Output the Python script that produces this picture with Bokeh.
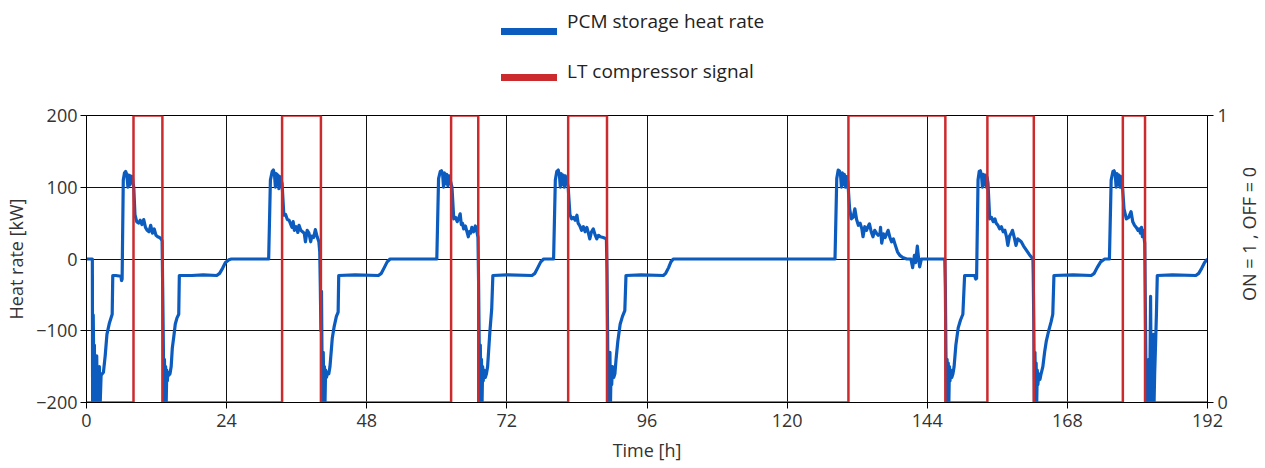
import numpy as np
from bokeh.plotting import figure
from bokeh.layouts import column, row
from bokeh.models import Range1d, LinearAxis, FixedTicker, Legend, LegendItem, Label
from bokeh.embed import file_html
from bokeh.resources import INLINE

# PCM storage heat rate over 8 days [h], [kW]
time_h = [
    0.0, 1.0, 1.05, 1.15, 1.25, 1.35, 1.45, 1.55, 1.65, 1.75, 1.85, 1.95, 2.05, 2.2, 2.35, 2.5, 2.7, 2.9, 3.2, 3.5, 3.9, 4.4, 4.5, 5.0, 5.9, 6.0, 6.1,
    6.3, 6.5, 6.7, 6.9, 7.1, 7.25, 7.4, 7.55, 7.7, 7.85, 8.0, 8.1,
    8.3, 8.6, 8.9, 9.2, 9.5, 9.8, 10.1, 10.4, 10.7, 11.0, 11.3, 11.6, 11.9, 12.2, 12.5, 12.8, 12.95,
    13.05, 13.15, 13.25, 13.35, 13.45, 13.55, 13.65, 13.75, 13.85, 13.95, 14.1, 14.3, 14.5, 14.7, 15.0, 15.2, 15.5, 15.8, 15.9,
    18.0, 20.0, 22.3, 22.8, 23.3, 23.8, 24.4, 24.8,
    31.2, 31.5, 31.8, 32.0, 32.2, 32.35, 32.5, 32.65, 32.8, 32.95, 33.1, 33.3, 33.5,
    33.8, 34.1, 34.4, 34.7, 35.0, 35.2, 35.4, 35.6, 35.9, 36.2, 36.4, 36.7, 37.0, 37.3, 37.5, 37.8, 38.1, 38.4, 38.6, 38.9, 39.2, 39.5, 39.8,
    39.95, 40.05, 40.15, 40.25, 40.35, 40.45, 40.55, 40.65, 40.75, 40.85, 40.95, 41.1, 41.3, 41.5, 41.7, 41.9, 42.1, 42.4, 42.8, 43.1, 43.2,
    46.0, 50.0, 50.5, 51.0, 51.5, 52.0,
    60.0, 60.3, 60.6, 60.8, 61.0, 61.15, 61.3, 61.5, 61.7, 61.9, 62.1, 62.35, 62.6,
    62.9, 63.2, 63.5, 63.8, 64.0, 64.2, 64.4, 64.6, 64.9, 65.1, 65.4, 65.6, 65.8, 66.0, 66.3, 66.6, 66.9, 67.05,
    67.15, 67.25, 67.35, 67.45, 67.55, 67.65, 67.75, 67.85, 67.95, 68.1, 68.3, 68.5, 68.7, 68.9, 69.1, 69.4, 69.6,
    72.0, 76.3, 76.8, 77.3, 77.8, 78.3,
    80.0, 80.3, 80.55, 80.8, 81.0, 81.15, 81.3, 81.5, 81.65, 81.85, 82.0, 82.25, 82.5,
    82.8, 83.1, 83.4, 83.7, 84.0, 84.2, 84.5, 84.8, 85.1, 85.4, 85.7, 86.0, 86.2, 86.5, 86.8, 87.1, 87.4, 87.7, 88.0, 88.5, 89.05,
    89.15, 89.25, 89.35, 89.45, 89.55, 89.65, 89.75, 89.85, 89.95, 90.1, 90.3, 90.5, 90.7, 91.0, 91.4, 91.8, 92.2, 92.4,
    95.0, 98.8, 99.2, 99.7, 100.1, 100.5,
    115.0, 128.2, 128.5, 128.75, 128.95, 129.15, 129.3, 129.45, 129.65, 129.8, 130.0, 130.2, 130.4,
    130.7, 131.0, 131.3, 131.6, 131.9, 132.2, 132.5, 132.8, 133.0, 133.3, 133.6, 133.9, 134.1, 134.4, 134.7, 135.0, 135.3,
    135.6, 135.9, 136.0, 136.2, 136.5, 136.8, 137.1, 137.3, 137.6, 137.9, 138.2, 138.5, 138.9, 139.3, 139.8, 140.5,
    141.2, 141.5, 141.8, 142.0, 142.3, 142.5, 142.7, 143.0, 143.5, 147.0,
    147.1, 147.2, 147.3, 147.4, 147.5, 147.6, 147.7, 147.8, 147.9, 148.0, 148.2, 148.4, 148.6, 148.9, 149.3, 149.7, 150.1, 150.4,
    152.1, 152.3, 152.45, 152.7, 152.9, 153.1, 153.3, 153.45, 153.6, 153.8, 153.95, 154.1, 154.25, 154.4,
    154.7, 155.0, 155.3, 155.6, 155.8, 156.1, 156.4, 156.7, 157.0, 157.3, 157.6, 157.8, 158.1, 158.4, 158.6, 158.9, 159.2, 159.5, 159.8, 160.1, 160.5, 161.0, 161.5, 162.1,
    162.15, 162.25, 162.35, 162.45, 162.55, 162.65, 162.75, 162.85, 162.95, 163.1, 163.3, 163.5, 163.8, 164.1, 164.4, 164.8, 165.2, 165.5, 165.7,
    169.0, 172.1, 172.6, 173.1, 173.7, 174.4,
    175.2, 175.5, 175.8, 176.0, 176.2, 176.35, 176.5, 176.7, 176.85, 177.0, 177.2, 177.4,
    177.7, 178.1, 178.5, 178.9, 179.2, 179.5, 179.8, 180.1, 180.3, 180.5, 180.7, 180.85, 181.0, 181.25,
    181.35, 181.45, 181.55, 181.65, 181.8, 181.95, 182.1, 182.25, 182.35, 182.45, 182.6, 182.75, 182.85, 182.95, 183.1, 183.25, 183.4,
    186.0, 190.0, 190.5, 191.0, 191.5, 192.0,
]
heat_rate_kw = [
    0, 0, -200, -78, -150, -120, -200, -140, -175, -135, -200, -160, -180, -150, -200, -162, -160, -158, -135, -105, -90, -77, -23, -23, -24, -30, -28,
    110, 120, 122, 118, 100, 117, 103, 116, 106, 115, 104, 100,
    62, 52, 50, 54, 48, 55, 44, 40, 38, 47, 36, 42, 33, 31, 30, 28, 25,
    -40, -110, -200, -140, -185, -150, -200, -155, -170, -158, -162, -160, -150, -124, -105, -91, -82, -77, -23,
    -23, -22, -23, -20, -13, -5, -1, 0,
    0, 110, 122, 124, 118, 100, 119, 104, 117, 98, 115, 112, 105,
    61, 62, 55, 54, 48, 44, 52, 40, 45, 37, 47, 40, 38, 36, 24, 40, 36, 24, 32, 30, 41, 31, 24,
    10, -40, -100, -45, -150, -200, -130, -190, -150, -200, -155, -165, -158, -160, -150, -130, -110, -95, -80, -74, -23,
    -22, -23, -20, -12, -4, 0,
    0, 112, 122, 123, 118, 100, 120, 105, 118, 102, 116, 108, 100,
    56, 58, 52, 58, 63, 48, 50, 42, 46, 40, 31, 38, 36, 44, 38, 46, 37, 30,
    -30, -110, -200, -120, -180, -140, -200, -150, -170, -155, -165, -160, -150, -125, -100, -70, -23,
    -22, -23, -20, -12, -4, 0,
    0, 110, 122, 124, 117, 100, 119, 104, 117, 100, 116, 110, 100,
    62, 56, 58, 54, 61, 50, 46, 40, 45, 38, 44, 35, 28, 38, 42, 34, 28, 33, 31, 30, 28,
    -20, -100, -200, -140, -190, -130, -200, -150, -175, -150, -165, -160, -140, -115, -91, -80, -72, -23,
    -22, -23, -20, -12, -4, 0,
    0, 0, 112, 124, 123, 117, 100, 120, 104, 118, 100, 115, 108,
    70, 56, 58, 70, 55, 47, 50, 42, 31, 45, 40, 46, 49, 38, 31, 40, 36,
    33, 35, 44, 22, 35, 30, 36, 40, 30, 24, 28, 20, 10, 5, 2, 0,
    0, -12, 5, -5, 18, 2, -11, 0, 0, 0,
    -40, -130, -200, -140, -185, -145, -200, -150, -170, -155, -165, -160, -150, -120, -96, -85, -77, -23,
    -23, -28, -27, 110, 122, 123, 116, 100, 118, 104, 117, 100, 114, 106,
    56, 58, 52, 56, 50, 47, 42, 45, 38, 40, 30, 19, 32, 36, 40, 30, 19, 28, 26, 24, 18, 12, 6, 0,
    -20, -90, -200, -130, -185, -145, -200, -155, -175, -160, -168, -160, -150, -130, -114, -100, -88, -77, -23,
    -22, -23, -20, -12, -4, 0,
    0, 110, 122, 123, 118, 100, 119, 104, 117, 100, 115, 106,
    70, 56, 58, 66, 52, 47, 44, 40, 42, 36, 44, 31, 40, 22,
    -60, -150, -200, -160, -190, -140, -200, -52, -170, -200, -150, -105, -200, -160, -120, -77, -23,
    -22, -23, -20, -13, -5, 0,
]
assert len(time_h) == len(heat_rate_kw)

# LT compressor switching times [h]
compressor_on_h = [8.05, 33.5, 62.45, 82.5, 130.5, 154.3, 177.5]
compressor_off_h = [13.0, 40.15, 67.1, 89.15, 147.1, 162.25, 181.3]

time_ticks = [0, 24, 48, 72, 96, 120, 144, 168, 192]
heat_ticks = [-200, -100, 0, 100, 200]
signal_ticks = [0, 1]

series_names = ["PCM storage heat rate", "LT compressor signal"]
signal_axis_title = "ON = 1 , OFF = 0"

# step trace of the on/off signal
sig_t, sig_v = [0.0], [0]
for t_on, t_off in zip(compressor_on_h, compressor_off_h):
    sig_t += [t_on, t_on, t_off, t_off]
    sig_v += [0, 1, 1, 0]
sig_t.append(192.0)
sig_v.append(0)

BLUE = "#0b5cbe"
RED = "#cc2b2e"
FONT = "Open Sans"
TEXT = "#333333"

# ---- legend strip on top ----
top = figure(width=1265, height=100, x_range=Range1d(0, 1), y_range=Range1d(0, 1),
             output_backend="svg", toolbar_location=None,
             min_border_left=86, min_border_right=58, min_border_top=0, min_border_bottom=0)
top.axis.visible = False
top.grid.visible = False
top.outline_line_color = None

# swatch carriers, kept outside the visible range
sw_blue = top.line(x=[-5, -4], y=[-5, -5], line_color=BLUE, line_width=7, line_cap="round")
sw_red = top.line(x=[-5, -4], y=[-5, -5], line_color=RED, line_width=7, line_cap="round")
sw_none = top.line(x=[-5, -4], y=[-5, -5], line_alpha=0)

legend_common = dict(orientation="vertical", padding=0, margin=0,
                     border_line_alpha=0, background_fill_alpha=0,
                     label_text_font=FONT, label_text_font_size="19px",
                     label_text_color="#222222")

# swatches
top.add_layout(Legend(items=[LegendItem(label=" ", renderers=[sw_blue]),
                             LegendItem(label=" ", renderers=[sw_red])],
                      location=(415, 10), glyph_width=56, glyph_height=26, label_height=26,
                      spacing=20, label_standoff=0, **legend_common))
# labels, set slightly above their swatches
top.add_layout(Legend(items=[LegendItem(label=series_names[0], renderers=[sw_none]),
                             LegendItem(label=series_names[1], renderers=[sw_none])],
                      location=(480, 16), glyph_width=1, glyph_height=26, label_height=26,
                      spacing=24, label_standoff=0, **legend_common))

# ---- main chart ----
p = figure(width=1233, height=368, x_range=Range1d(0, 192), y_range=Range1d(-200, 200),
           output_backend="svg", toolbar_location=None,
           min_border_left=86, min_border_right=26, min_border_top=15, min_border_bottom=66)
p.extra_y_ranges = {"signal": Range1d(0, 1)}
p.outline_line_color = "black"
p.outline_line_width = 1

for grid, ticks in ((p.xgrid, time_ticks), (p.ygrid, heat_ticks)):
    grid.ticker = FixedTicker(ticks=ticks)
    grid.grid_line_color = "#111111"
    grid.grid_line_width = 1

def style_axis(ax):
    ax.axis_line_color = "black"
    ax.major_tick_line_color = "black"
    ax.major_tick_out = 6
    ax.major_tick_in = 0
    ax.minor_tick_line_color = None
    ax.major_label_text_font = FONT
    ax.major_label_text_font_size = "18px"
    ax.major_label_text_color = TEXT
    ax.axis_label_text_font = FONT
    ax.axis_label_text_font_size = "18px"
    ax.axis_label_text_font_style = "normal"
    ax.axis_label_text_color = TEXT

p.xaxis.ticker = FixedTicker(ticks=time_ticks)
p.xaxis.axis_label = "Time [h]"
p.xaxis.major_label_standoff = 5
p.xaxis.axis_label_standoff = 8
p.yaxis.ticker = FixedTicker(ticks=heat_ticks)
p.yaxis.axis_label = "Heat rate [kW]"
p.yaxis.major_label_standoff = 3
p.yaxis.axis_label_standoff = 5
style_axis(p.xaxis[0])
style_axis(p.yaxis[0])

right_axis = LinearAxis(y_range_name="signal", ticker=FixedTicker(ticks=signal_ticks))
style_axis(right_axis)
right_axis.major_label_standoff = 4
p.add_layout(right_axis, "right")

p.line(time_h, heat_rate_kw, line_color=BLUE, line_width=3.2, line_join="round")
p.line(sig_t, sig_v, y_range_name="signal", line_color=RED, line_width=2.5)

# ---- title strip for the signal axis (reads bottom to top) ----
side = figure(width=32, height=368, x_range=Range1d(0, 32), y_range=Range1d(0, 368),
              output_backend="svg", toolbar_location=None, min_border=0)
side.axis.visible = False
side.grid.visible = False
side.outline_line_color = None
side.add_layout(Label(x=15, y=216, angle=np.pi / 2, text=signal_axis_title,
                      text_font=FONT, text_font_size="18px", text_color=TEXT,
                      text_align="center", text_baseline="middle"))

layout = column(top, row(p, side, spacing=0), spacing=0)
open("out.html", "w").write(file_html(layout, INLINE))
